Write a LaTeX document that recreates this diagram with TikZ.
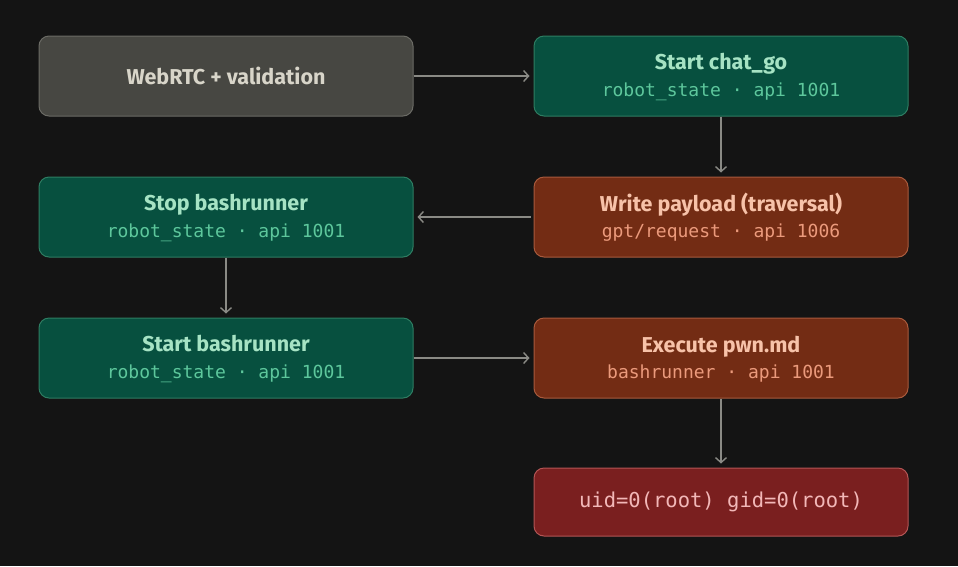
\documentclass[tikz,border=0pt]{standalone}
\usepackage{fontspec}
\setmainfont{Fira Sans}
\newfontfamily\codefont{DejaVu Sans Mono}
\usetikzlibrary{arrows.meta}
\definecolor{bgdark}{HTML}{141414}
\definecolor{grayfill}{HTML}{474742}
\definecolor{grayline}{HTML}{6B6B65}
\definecolor{graytext}{HTML}{D8D5C9}
\definecolor{greenfill}{HTML}{07503F}
\definecolor{greenline}{HTML}{2E7D62}
\definecolor{greentitle}{HTML}{A6E3C4}
\definecolor{greencode}{HTML}{5DC79C}
\definecolor{rustfill}{HTML}{732C14}
\definecolor{rustline}{HTML}{A85A3C}
\definecolor{rusttitle}{HTML}{F7C2A9}
\definecolor{rustcode}{HTML}{EB9A7C}
\definecolor{redfill}{HTML}{7A1F1F}
\definecolor{redline}{HTML}{B35555}
\definecolor{redtext}{HTML}{F2B8B8}
\definecolor{linkgray}{HTML}{8A8A85}
\newcommand{\boxtitle}[1]{{\fontsize{21.5}{24}\selectfont\bfseries\vphantom{Tgp(}#1}}
\newcommand{\boxcode}[1]{{\codefont\fontsize{18}{20}\selectfont\vphantom{Tgp(}#1}}
\tikzset{
  box/.style={rounded corners=10pt, line width=1pt, minimum width=374pt,
    minimum height=80pt, align=center, inner sep=0pt},
  graybox/.style={box, draw=grayline, fill=grayfill, text=graytext},
  greenbox/.style={box, draw=greenline, fill=greenfill, text=greentitle},
  rustbox/.style={box, draw=rustline, fill=rustfill, text=rusttitle},
  redbox/.style={box, draw=redline, fill=redfill, text=redtext, minimum height=68pt},
  link/.style={draw=linkgray, line width=1.4pt,
    -{Straight Barb[length=5pt,width=11pt]}, shorten >=4pt}
}
\begin{document}
\begin{tikzpicture}[x=1pt,y=-1pt]
	\fill[bgdark] (0,0) rectangle (958,566);
	\useasboundingbox (0,0) rectangle (958,566);
	\node[graybox] (webrtc) at (226,76) {\fontsize{21.5}{24}\selectfont\bfseries WebRTC + validation};
	\node[greenbox] (chatgo) at (721,76) {\boxtitle{Start chat\_go}\\[7pt]\boxcode{\color{greencode}robot\_state · api 1001}};
	\node[rustbox] (payload) at (721,217) {\boxtitle{Write payload (traversal)}\\[7pt]\boxcode{\color{rustcode}gpt/request · api 1006}};
	\node[greenbox] (stopbash) at (226,217) {\boxtitle{Stop bashrunner}\\[7pt]\boxcode{\color{greencode}robot\_state · api 1001}};
	\node[greenbox] (startbash) at (226,358) {\boxtitle{Start bashrunner}\\[7pt]\boxcode{\color{greencode}robot\_state · api 1001}};
	\node[rustbox] (execpwn) at (721,358) {\boxtitle{Execute pwn.md}\\[7pt]\boxcode{\color{rustcode}bashrunner · api 1001}};
	\node[redbox] (rootid) at (721,502) {{\codefont\fontsize{20.5}{22}\selectfont uid=0(root) gid=0(root)}};
	% flow
	\draw[link] (webrtc) -- (chatgo);
	\draw[link] (chatgo) -- (payload);
	\draw[link, shorten <=3pt] (payload) -- (stopbash);
	\draw[link] (stopbash) -- (startbash);
	\draw[link] (startbash) -- (execpwn);
	\draw[link] (execpwn) -- (rootid);
\end{tikzpicture}
\end{document}
